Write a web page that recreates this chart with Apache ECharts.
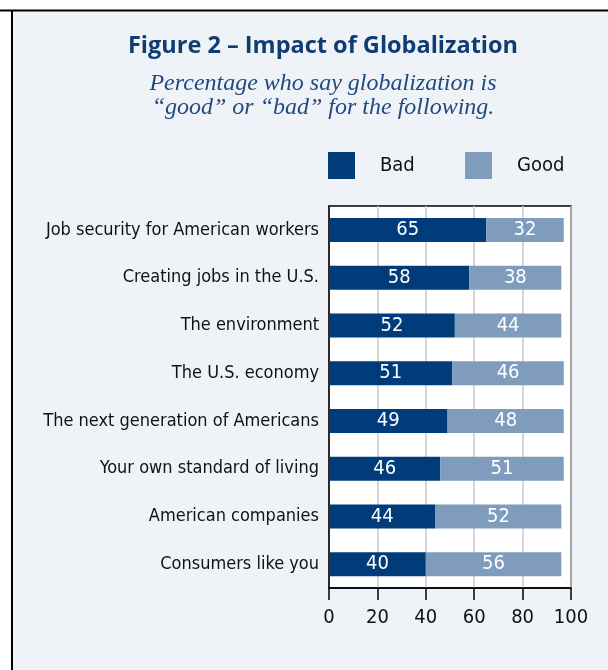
<!DOCTYPE html>
<html><head><meta charset="utf-8">
<script src="https://cdn.jsdelivr.net/npm/echarts@6/dist/echarts.min.js"></script>
<style>html,body{margin:0;padding:0;background:#fff}#c{width:608px;height:670px}</style>
</head><body><div id="c"></div>
<script>
const categories = ["Job security for American workers","Creating jobs in the U.S.","The environment","The U.S. economy","The next generation of Americans","Your own standard of living","American companies","Consumers like you"];
const badValues = [65,58,52,51,49,46,44,40];
const goodValues = [32,38,44,46,48,51,52,56];
const xTicks = [0,20,40,60,80,100];

const COND = "'Liberation Sans Narrow','DejaVu Sans Condensed','Roboto Condensed',sans-serif";
const chart = echarts.init(document.getElementById('c'), null, {renderer:'canvas'});
chart.setOption({
  backgroundColor: '#fff',
  animation: false,
  graphic: [
    {type:'rect', shape:{x:12,y:10,width:596,height:660}, style:{fill:'#eff3f7'}, z:-10},
    {type:'line', shape:{x1:0,y1:10.5,x2:608,y2:10.5}, style:{stroke:'#000',lineWidth:2}, z:-5},
    {type:'line', shape:{x1:12,y1:10,x2:12,y2:670}, style:{stroke:'#000',lineWidth:2}, z:-5}
  ],
  title: {
    text: 'Figure 2 – Impact of Globalization',
    subtext: 'Percentage who say globalization is\n“good” or “bad” for the following.',
    left: 318, top: 29, textAlign: 'center',
    textStyle: {fontFamily:"'Open Sans',sans-serif", fontWeight:'bold', fontSize:23.5, color:'#0f3d73'},
    subtextStyle: {fontFamily:"'Liberation Serif',serif", fontStyle:'italic', fontSize:24, color:'#1f4a80', lineHeight:24},
    itemGap: 14
  },
  legend: [
    {data:['Bad'], left:323, top:147, itemWidth:27, itemHeight:27, icon:'rect',
     textStyle:{fontFamily:COND, fontSize:20, color:'#111', padding:[0,0,0,20]}},
    {data:['Good'], left:460, top:147, itemWidth:27, itemHeight:27, icon:'rect',
     textStyle:{fontFamily:COND, fontSize:20, color:'#111', padding:[0,0,0,20]}}
  ],
  grid: {left:329, right:37, top:206, bottom:82, show:true, backgroundColor:'#fff', borderColor:'#000', borderWidth:1.5},
  xAxis: {
    type:'value', min:xTicks[0], max:xTicks[xTicks.length-1], interval:20,
    axisLine:{show:true, lineStyle:{color:'#000', width:1.5}},
    axisTick:{show:true, length:12, lineStyle:{color:'#000', width:1.5}},
    splitLine:{show:true, lineStyle:{color:'#c8c8c8', width:1.5}},
    axisLabel:{fontFamily:COND, fontSize:20, color:'#111', margin:20}
  },
  yAxis: {
    type:'category', data:categories, inverse:true,
    axisLine:{show:true, lineStyle:{color:'#000', width:1.5}},
    axisTick:{show:false},
    axisLabel:{fontFamily:COND, fontSize:18, color:'#111', margin:10}
  },
  series: [
    {name:'Bad', type:'bar', stack:'t', data:badValues, barWidth:24, itemStyle:{color:'#003b7a'},
     label:{show:true, position:'inside', color:'#fff', fontFamily:COND, fontSize:20}},
    {name:'Good', type:'bar', stack:'t', data:goodValues, barWidth:24, itemStyle:{color:'#7f9cbd'},
     label:{show:true, position:'inside', color:'#fff', fontFamily:COND, fontSize:20}}
  ]
});
</script></body></html>
